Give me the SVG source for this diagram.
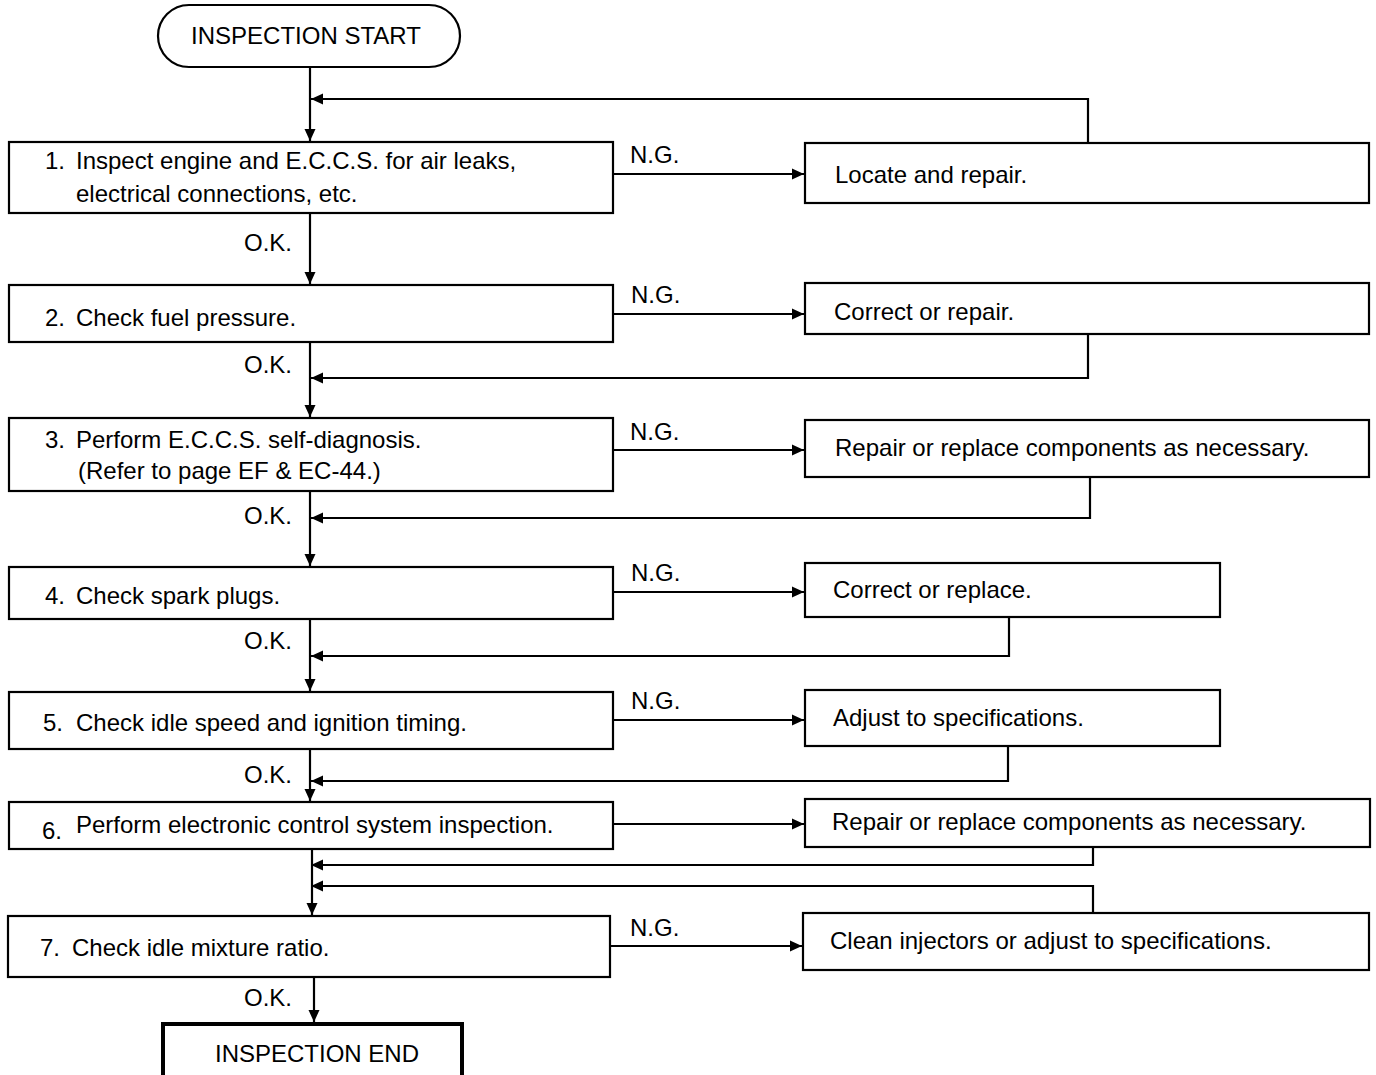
<svg xmlns="http://www.w3.org/2000/svg" width="1376" height="1075" viewBox="0 0 1376 1075">
  <style>
    .box { fill: #fff; stroke: #000; stroke-width: 2.2; }
    .end { fill: #fff; stroke: #000; stroke-width: 4; }
    .wire { fill: none; stroke: #000; stroke-width: 2.2; }
    text { font-family: "Liberation Sans", Arial, sans-serif; font-size: 24px; fill: #000; }
    .mid { text-anchor: middle; }
  </style>
  <defs>
    <marker id="arrow" markerWidth="14" markerHeight="14" refX="12" refY="7" orient="auto" markerUnits="userSpaceOnUse">
      <path d="M0,1.5 L12,7 L0,12.5 Z" fill="#000"/>
    </marker>
  </defs>

  <!-- connectors -->
  <g id="connectors">
    <path class="wire" d="M310,67 V141" marker-end="url(#arrow)"/>
    <path class="wire" d="M1088,143 V99 H311" marker-end="url(#arrow)"/>
    <path class="wire" d="M613,174 H804" marker-end="url(#arrow)"/>

    <path class="wire" d="M310,213 V284" marker-end="url(#arrow)"/>
    <path class="wire" d="M613,314 H804" marker-end="url(#arrow)"/>
    <path class="wire" d="M1088,334 V378 H311" marker-end="url(#arrow)"/>

    <path class="wire" d="M310,342 V417" marker-end="url(#arrow)"/>
    <path class="wire" d="M613,450 H804" marker-end="url(#arrow)"/>
    <path class="wire" d="M1090,477 V518 H311" marker-end="url(#arrow)"/>

    <path class="wire" d="M310,491 V566" marker-end="url(#arrow)"/>
    <path class="wire" d="M613,592 H804" marker-end="url(#arrow)"/>
    <path class="wire" d="M1009,617 V656 H311" marker-end="url(#arrow)"/>

    <path class="wire" d="M310,619 V691" marker-end="url(#arrow)"/>
    <path class="wire" d="M613,720 H804" marker-end="url(#arrow)"/>
    <path class="wire" d="M1008,746 V781 H311" marker-end="url(#arrow)"/>

    <path class="wire" d="M310,749 V801" marker-end="url(#arrow)"/>
    <path class="wire" d="M613,824 H804" marker-end="url(#arrow)"/>
    <path class="wire" d="M1093,847 V865 H311" marker-end="url(#arrow)"/>
    <path class="wire" d="M1093,913 V886 H311" marker-end="url(#arrow)"/>

    <path class="wire" d="M312,849 V915" marker-end="url(#arrow)"/>
    <path class="wire" d="M610,946 H802" marker-end="url(#arrow)"/>
    <path class="wire" d="M314,977 V1022" marker-end="url(#arrow)"/>

    <text x="630" y="163">N.G.</text>
    <text x="631" y="303">N.G.</text>
    <text x="630" y="440">N.G.</text>
    <text x="631" y="581">N.G.</text>
    <text x="631" y="709">N.G.</text>
    <text x="630" y="936">N.G.</text>

    <text x="244" y="251">O.K.</text>
    <text x="244" y="373">O.K.</text>
    <text x="244" y="524">O.K.</text>
    <text x="244" y="649">O.K.</text>
    <text x="244" y="783">O.K.</text>
    <text x="244" y="1006">O.K.</text>
  </g>

  <g id="start">
    <rect class="box" x="158" y="5" width="302" height="62" rx="31" ry="31"/>
    <text class="mid" x="306" y="44">INSPECTION START</text>
  </g>

  <g id="step1">
    <rect class="box" x="9" y="142" width="604" height="71"/>
    <text y="169"><tspan x="45">1.</tspan><tspan x="76">Inspect engine and E.C.C.S. for air leaks,</tspan></text>
    <text x="76" y="202">electrical connections, etc.</text>
  </g>
  <g id="fix1">
    <rect class="box" x="805" y="143" width="564" height="60"/>
    <text x="835" y="183">Locate and repair.</text>
  </g>

  <g id="step2">
    <rect class="box" x="9" y="285" width="604" height="57"/>
    <text y="326"><tspan x="45">2.</tspan><tspan x="76">Check fuel pressure.</tspan></text>
  </g>
  <g id="fix2">
    <rect class="box" x="805" y="283" width="564" height="51"/>
    <text x="834" y="320">Correct or repair.</text>
  </g>

  <g id="step3">
    <rect class="box" x="9" y="418" width="604" height="73"/>
    <text y="448"><tspan x="45">3.</tspan><tspan x="76">Perform E.C.C.S. self-diagnosis.</tspan></text>
    <text x="78" y="479">(Refer to page EF &amp; EC-44.)</text>
  </g>
  <g id="fix3">
    <rect class="box" x="805" y="420" width="564" height="57"/>
    <text x="835" y="456">Repair or replace components as necessary.</text>
  </g>

  <g id="step4">
    <rect class="box" x="9" y="567" width="604" height="52"/>
    <text y="604"><tspan x="45">4.</tspan><tspan x="76">Check spark plugs.</tspan></text>
  </g>
  <g id="fix4">
    <rect class="box" x="805" y="563" width="415" height="54"/>
    <text x="833" y="598">Correct or replace.</text>
  </g>

  <g id="step5">
    <rect class="box" x="9" y="692" width="604" height="57"/>
    <text y="731"><tspan x="43">5.</tspan><tspan x="76">Check idle speed and ignition timing.</tspan></text>
  </g>
  <g id="fix5">
    <rect class="box" x="805" y="690" width="415" height="56"/>
    <text x="833" y="726">Adjust to specifications.</text>
  </g>

  <g id="step6">
    <rect class="box" x="9" y="802" width="604" height="47"/>
    <text x="42" y="839">6.</text>
    <text x="76" y="833">Perform electronic control system inspection.</text>
  </g>
  <g id="fix6">
    <rect class="box" x="805" y="799" width="565" height="48"/>
    <text x="832" y="830">Repair or replace components as necessary.</text>
  </g>

  <g id="step7">
    <rect class="box" x="8" y="916" width="602" height="61"/>
    <text y="956"><tspan x="40">7.</tspan><tspan x="72">Check idle mixture ratio.</tspan></text>
  </g>
  <g id="fix7">
    <rect class="box" x="803" y="913" width="566" height="57"/>
    <text x="830" y="949">Clean injectors or adjust to specifications.</text>
  </g>

  <g id="end">
    <rect class="end" x="163" y="1024" width="299" height="60"/>
    <text class="mid" x="317" y="1062">INSPECTION END</text>
  </g>
</svg>
